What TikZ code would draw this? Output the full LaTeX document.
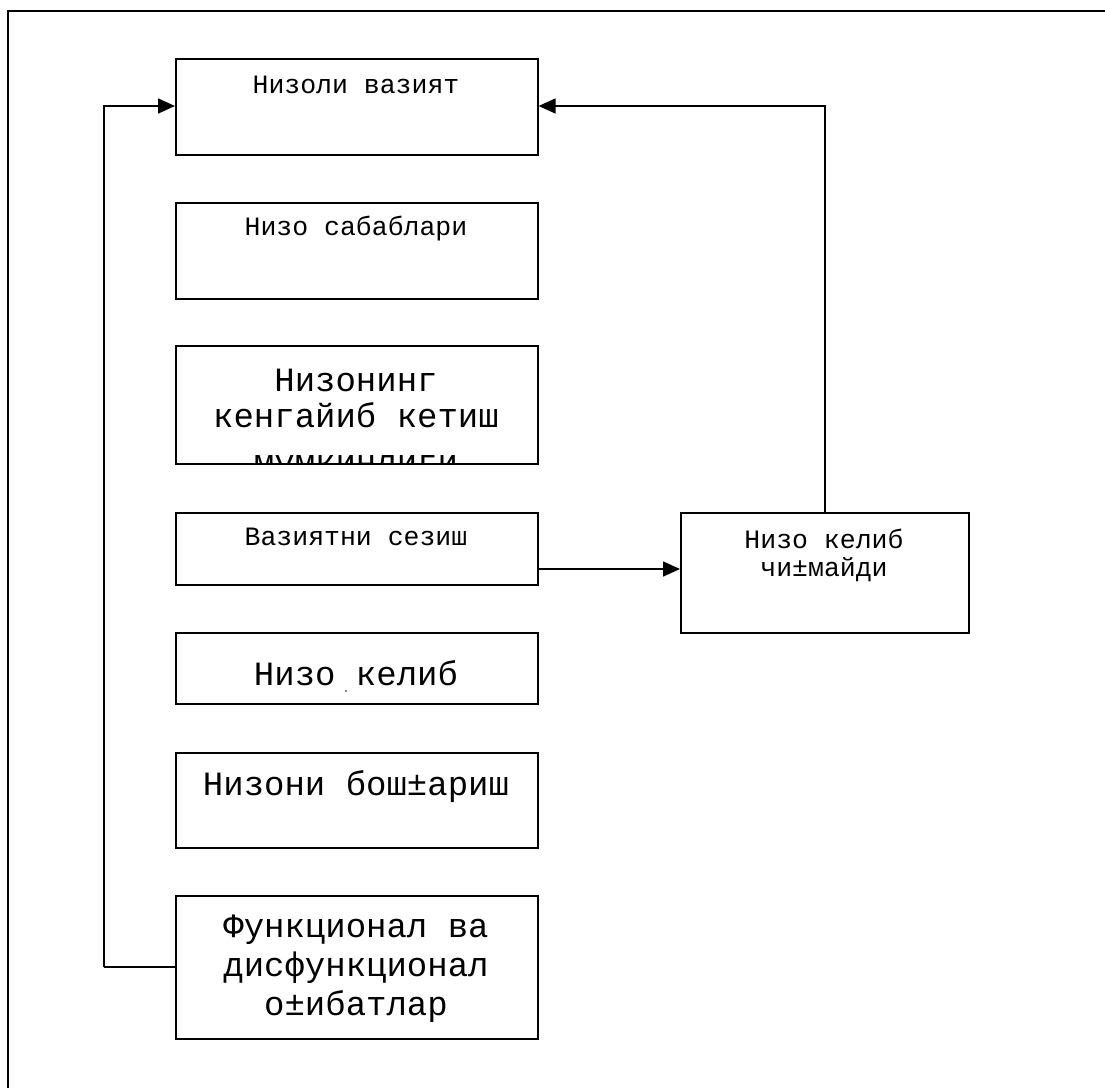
\documentclass[tikz,border=0pt]{standalone}
\usepackage{fontspec}
\setmainfont{Liberation Mono}
\usetikzlibrary{arrows.meta}
\tikzset{
  box/.style={draw, line width=1.6pt, rectangle, inner sep=0pt, anchor=north west},
  link/.style={line width=1.6pt},
  arr/.style={line width=1.6pt, -{Triangle[length=17pt,width=15pt]}},
  small/.style={font=\fontsize{26.5}{28}\selectfont, anchor=base, inner sep=0pt},
  big/.style={font=\fontsize{34}{36}\selectfont, anchor=base, inner sep=0pt},
}
\begin{document}
\begin{tikzpicture}[x=1pt, y=-1pt]
\useasboundingbox (0,0) rectangle (1105,1087);
\begin{scope}
\clip (0,0) rectangle (1105,1087);
% outer frame
\draw[line width=1.6pt] (8,1095) -- (8,11) -- (1115,11);
\end{scope}

% boxes (x, y of top-left corner, size)
\node[box, minimum width=362pt, minimum height=96pt]  (b1) at (175,58)  {};
\node[box, minimum width=362pt, minimum height=96pt]  (b2) at (175,202) {};
\node[box, minimum width=362pt, minimum height=118pt] (b3) at (175,345) {};
\node[box, minimum width=362pt, minimum height=72pt]  (b4) at (175,512) {};
\node[box, minimum width=288pt, minimum height=120pt] (b5) at (680,512) {};
\node[box, minimum width=362pt, minimum height=71pt]  (b6) at (175,632) {};
\node[box, minimum width=362pt, minimum height=95pt]  (b7) at (175,752) {};
\node[box, minimum width=362pt, minimum height=143pt] (b8) at (175,895) {};

% labels
\node[small] (t1) at (356,93)  {Низоли вазият};
\node[small] (t2) at (356,235) {Низо сабаблари};
\begin{scope}
\clip (b3.north west) rectangle (b3.south east);
\node[big] (t3a) at (356,391) {Низонинг};
\node[big] (t3b) at (356,427) {кенгайиб кетиш};
\node[big] (t3c) at (356,473) {мумкинлиги};
\end{scope}
\node[small] (t4) at (356,545) {Вазиятни сезиш};
\node[small] (t5a) at (824,548) {Низо келиб};
\node[small] (t5b) at (824,576) {чи±майди};
\node[big] (t6) at (356,685) {Низо келиб};
\fill (346,691) circle (0.9pt);
\node[big] (t7) at (356,795) {Низони бош±ариш};
\node[big] (t8a) at (356,937) {Функционал ва};
\node[big] (t8b) at (356,976) {дисфункционал};
\node[big] (t8c) at (356,1015) {о±ибатлар};

% connectors
\coordinate (lbend) at (104,967);
\draw[link] (b8.west |- lbend) -- (lbend);
\draw[arr] (lbend) -- (104,106) -- (b1.west |- 0,106);
\draw[arr] (b4.east |- 0,569) -- (b5.west |- 0,569);
\draw[arr] (b5.north) -- (b5.north |- 0,106) -- (b1.east |- 0,106);
\end{tikzpicture}
\end{document}
